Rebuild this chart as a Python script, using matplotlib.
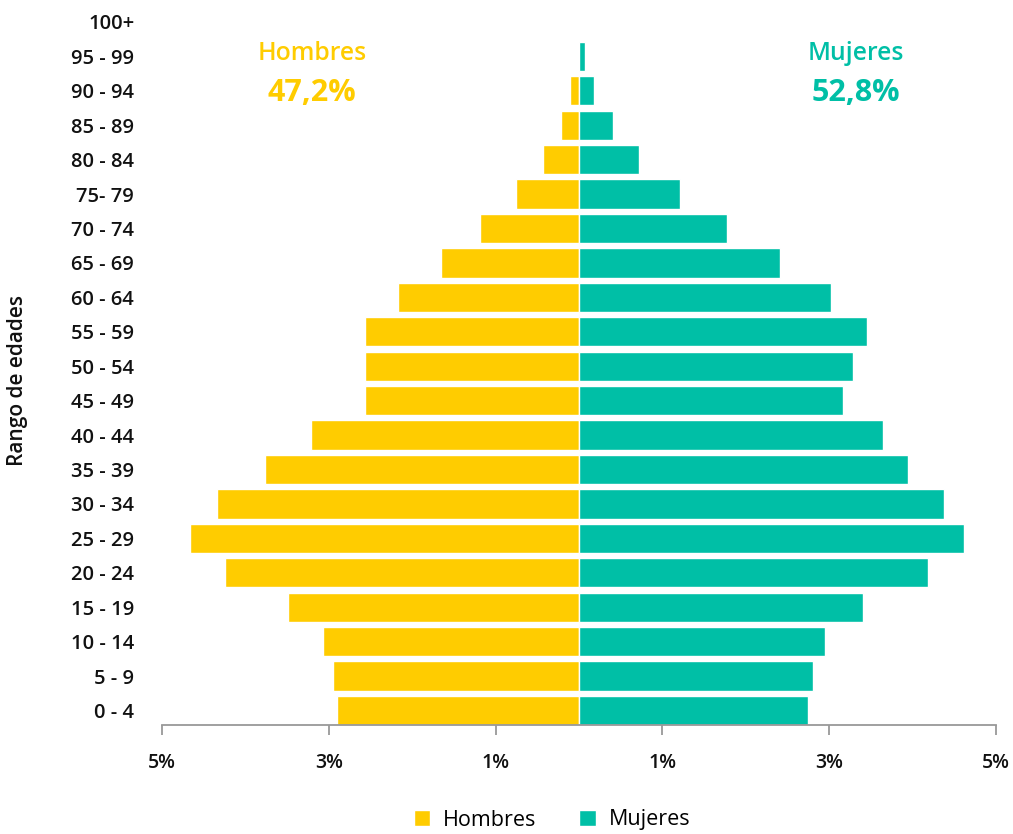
import numpy as np
import matplotlib.pyplot as plt

# grupos de edad, de abajo hacia arriba
edades = ["0 - 4", "5 - 9", "10 - 14", "15 - 19", "20 - 24", "25 - 29", "30 - 34",
          "35 - 39", "40 - 44", "45 - 49", "50 - 54", "55 - 59", "60 - 64", "65 - 69",
          "70 - 74", "75- 79", "80 - 84", "85 - 89", "90 - 94", "95 - 99", "100+"]
hombres = [2.90, 2.95, 3.07, 3.49, 4.25, 4.67, 4.34, 3.76, 3.21, 2.56, 2.56, 2.56,
           2.17, 1.66, 1.19, 0.75, 0.43, 0.22, 0.11, 0.0, 0.0]
mujeres = [2.74, 2.80, 2.95, 3.40, 4.18, 4.62, 4.38, 3.95, 3.64, 3.16, 3.29, 3.45,
           3.02, 2.41, 1.78, 1.21, 0.72, 0.41, 0.18, 0.07, 0.0]
tick_vals = [-5, -3, -1, 1, 3, 5]
tick_labels = ["5%", "3%", "1%", "1%", "3%", "5%"]
total_h = "47,2%"
total_m = "52,8%"

amarillo = "#FFCC00"
verde = "#00BFA6"

plt.rcParams['font.family'] = ['Open Sans', 'DejaVu Sans']

fig = plt.figure(figsize=(10.13, 8.34), dpi=100)
ax = fig.add_axes([162 / 1013, 1 - 725 / 834, (996 - 162) / 1013, (725 - 3) / 834])

y = np.arange(len(edades))
ax.barh(y, -np.array(hombres), height=0.85, color=amarillo, edgecolor="white",
        linewidth=1, label="Hombres")
ax.barh(y, mujeres, height=0.85, color=verde, edgecolor="white",
        linewidth=1, label="Mujeres")

ax.set_xlim(-5, 5)
ax.set_ylim(-0.42, 20.55)
ax.set_xticks(tick_vals)
ax.set_xticklabels(tick_labels, fontsize=14, fontweight="semibold", color="#111111")
ax.set_yticks(y)
ax.set_yticklabels(edades, fontsize=14.5, fontweight="semibold", color="#111111")
ax.tick_params(axis="y", length=0, pad=20)
ax.tick_params(axis="x", length=7, width=1.3, color="#999999", pad=13)
for s in ["top", "right", "left"]:
    ax.spines[s].set_visible(False)
ax.spines["bottom"].set_color("#999999")
ax.spines["bottom"].set_linewidth(1.3)

fig.text(18 / 1013, 1 - 380 / 834, "Rango de edades", rotation=90, ha="center",
         va="center", fontsize=15, fontweight="semibold", color="#111111")

fig.text(312 / 1013, 1 - 54 / 834, "Hombres", ha="center", va="center",
         fontsize=17.8, fontweight="semibold", color=amarillo)
fig.text(312 / 1013, 1 - 93 / 834, total_h, ha="center", va="center",
         fontsize=22, fontweight="bold", color=amarillo)
fig.text(856 / 1013, 1 - 54 / 834, "Mujeres", ha="center", va="center",
         fontsize=17.8, fontweight="semibold", color=verde)
fig.text(856 / 1013, 1 - 93 / 834, total_m, ha="center", va="center",
         fontsize=22, fontweight="bold", color=verde)

# la leyenda del original queda casi al borde; se sube un poco para que no se corte
fig.legend(loc="center", bbox_to_anchor=(552 / 1013, 1 - 820 / 834), ncol=2,
           frameon=False, fontsize=15.5, handlelength=0.75, handleheight=0.75,
           columnspacing=2.0, handletextpad=0.6)

fig.savefig("out.png", dpi=100)
